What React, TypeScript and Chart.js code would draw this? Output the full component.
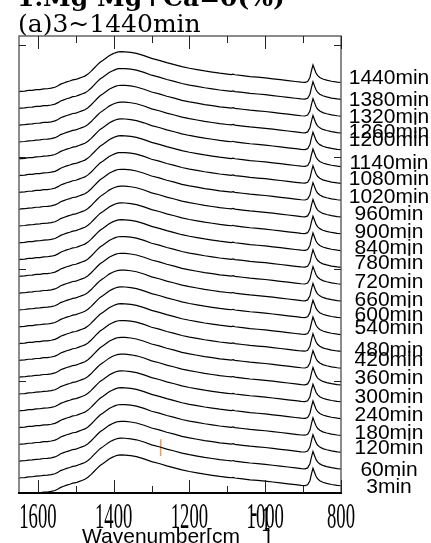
import { useEffect, useRef } from "react";
import { Chart, registerables } from "chart.js";

Chart.register(...registerables);

const TIMES = [
  "3min", "60min", "120min", "180min", "240min", "300min", "360min", "420min",
  "480min", "540min", "600min", "660min", "720min", "780min", "840min", "900min",
  "960min", "1020min", "1080min", "1140min", "1200min", "1260min", "1320min",
  "1380min", "1440min",
];

const WAVENUMBERS = [
  1655, 1645, 1635, 1625, 1615, 1605, 1595, 1585, 1575, 1565, 1555, 1547, 1540,
  1532, 1524, 1516, 1508, 1500, 1492, 1484, 1476, 1468, 1460, 1452, 1444, 1436,
  1428, 1420, 1412, 1404, 1396, 1388, 1380, 1370, 1355, 1340, 1320, 1300, 1280,
  1260, 1240, 1220, 1200, 1180, 1160, 1140, 1120, 1100, 1090, 1085, 1080, 1060,
  1040, 1020, 1000, 980, 960, 940, 920, 905, 895, 888, 882, 878, 874, 870, 866,
  862, 856, 848, 838, 825, 810, 798,
];

const BASE_SPECTRUM = [
  0.0, 0.006, 0.008, 0.014, 0.015, 0.021, 0.022, 0.028, 0.029, 0.034, 0.042,
  0.055, 0.07, 0.08, 0.09, 0.098, 0.108, 0.112, 0.122, 0.132, 0.142, 0.16,
  0.184, 0.212, 0.24, 0.266, 0.284, 0.304, 0.324, 0.338, 0.35, 0.358, 0.36,
  0.359, 0.354, 0.345, 0.325, 0.3, 0.283, 0.262, 0.245, 0.226, 0.212, 0.2,
  0.188, 0.178, 0.168, 0.16, 0.156, 0.16, 0.154, 0.146, 0.138, 0.132, 0.126,
  0.118, 0.11, 0.102, 0.094, 0.088, 0.086, 0.094, 0.13, 0.19, 0.241, 0.205,
  0.17, 0.148, 0.13, 0.116, 0.106, 0.096, 0.088, 0.084,
];

const STACK_OFFSETS = [
  -0.02, 0.13, 0.28, 0.43, 0.58, 0.73, 0.88, 1.03, 1.18, 1.33, 1.48, 1.63, 1.78,
  1.93, 2.08, 2.23, 2.38, 2.53, 2.68, 2.83, 2.98, 3.13, 3.28, 3.43, 3.58,
];

const LABEL_Y = [
  0.054, 0.205, 0.402, 0.536, 0.696, 0.857, 1.027, 1.188, 1.277, 1.473, 1.589,
  1.723, 1.884, 2.054, 2.188, 2.33, 2.491, 2.643, 2.804, 2.946, 3.152, 3.223,
  3.357, 3.509, 3.705,
];

const X_MAJOR_TICKS = [1600, 1400, 1200, 1000, 800];
const X_MINOR_TICKS = [1500, 1300, 1100, 900];
const Y_TICKS = [1, 2, 3, 4];
const MARKER_X = [1276, 1276];
const MARKER_Y = [0.33, 0.48];

const overlay = {
  id: "overlay",
  afterDraw(chart: any) {
    const { ctx, chartArea } = chart;
    const xs = chart.scales.x;
    const ys = chart.scales.y;
    const { left, right, top, bottom } = chartArea;
    ctx.save();

    // frame
    ctx.lineWidth = 1.5;
    ctx.strokeStyle = "#666";
    ctx.beginPath();
    ctx.moveTo(left, bottom);
    ctx.lineTo(left, top);
    ctx.lineTo(right, top);
    ctx.lineTo(right, bottom);
    ctx.stroke();
    ctx.strokeStyle = "#000";
    ctx.lineWidth = 2;
    ctx.beginPath();
    ctx.moveTo(left - 1, bottom);
    ctx.lineTo(right + 1, bottom);
    ctx.stroke();

    // x ticks (inward, top and bottom)
    ctx.lineWidth = 1;
    ctx.strokeStyle = "#222";
    const tick = (v: number, len: number) => {
      const px = Math.round(xs.getPixelForValue(v)) + 0.5;
      ctx.beginPath();
      ctx.moveTo(px, top);
      ctx.lineTo(px, top + len);
      ctx.moveTo(px, bottom);
      ctx.lineTo(px, bottom - len);
      ctx.stroke();
    };
    X_MAJOR_TICKS.forEach((v) => tick(v, 13));
    X_MINOR_TICKS.forEach((v) => tick(v, 7));

    // y ticks (inward, left and right)
    Y_TICKS.forEach((v) => {
      const py = Math.round(ys.getPixelForValue(v)) + 0.5;
      ctx.beginPath();
      ctx.moveTo(left, py);
      ctx.lineTo(left + 7, py);
      ctx.moveTo(right, py);
      ctx.lineTo(right - 7, py);
      ctx.stroke();
    });

    // x tick labels: condensed serif
    ctx.fillStyle = "#000";
    ctx.textAlign = "center";
    ctx.textBaseline = "alphabetic";
    ctx.font = '36px "Liberation Serif"';
    const sx = 0.52;
    X_MAJOR_TICKS.forEach((v) => {
      const px = xs.getPixelForValue(v);
      ctx.save();
      ctx.scale(sx, 1);
      ctx.fillText(String(v), px / sx, 528);
      ctx.restore();
    });

    // curve labels
    ctx.font = '21px "Liberation Sans"';
    ctx.textBaseline = "middle";
    TIMES.forEach((t, i) => {
      ctx.fillText(t, 389, ys.getPixelForValue(LABEL_Y[i]));
    });

    // axis title
    ctx.textAlign = "left";
    ctx.textBaseline = "alphabetic";
    ctx.font = '21px "Liberation Sans"';
    ctx.fillText("Wavenumber[cm", 82, 543);
    ctx.fillText("]", 265, 543);
    ctx.save();
    ctx.scale(sx, 1);
    ctx.textAlign = "center";
    ctx.font = '36px "Liberation Serif"';
    ctx.fillText("-", 254 / sx, 523);
    ctx.fillText("1", 266 / sx, 531);
    ctx.restore();

    // headings
    ctx.textAlign = "left";
    ctx.font = 'bold 25px "DejaVu Serif"';
    ctx.fillText("1.Mg Mg+Ca=0(%)", 17, 6);
    ctx.font = '25px "DejaVu Serif"';
    ctx.fillText("(a)3~1440min", 18, 32);

    ctx.restore();
  },
};

export default function App() {
  const ref = useRef<HTMLCanvasElement | null>(null);
  useEffect(() => {
    if (!ref.current) return;
    const datasets: any[] = TIMES.map((t, i) => ({
      label: t,
      data: WAVENUMBERS.map((w, j) => ({ x: w, y: BASE_SPECTRUM[j] + STACK_OFFSETS[i] })),
      borderColor: "#000",
      borderWidth: 1.2,
      pointRadius: 0,
      tension: 0,
      clip: 0,
    }));
    datasets.push({
      label: "marker",
      data: MARKER_X.map((x, k) => ({ x, y: MARKER_Y[k] })),
      borderColor: "#eea060",
      borderWidth: 1.6,
      pointRadius: 0,
      clip: 0,
    });
    const chart = new Chart(ref.current, {
      type: "line",
      data: { datasets },
      options: {
        responsive: false,
        animation: false,
        events: [],
        layout: { padding: { left: 19, right: 90, top: 36, bottom: 50 } },
        plugins: { legend: { display: false }, tooltip: { enabled: false } },
        scales: {
          x: { type: "linear", min: 800, max: 1650, reverse: true, display: false },
          y: { type: "linear", min: 0, max: 4.08, display: false },
        },
      },
      plugins: [overlay],
    });
    return () => chart.destroy();
  }, []);
  return (
    <div style={{ position: "absolute", left: 0, top: 0, width: 431, height: 543, background: "#fff" }}>
      <canvas ref={ref} width={431} height={543} />
    </div>
  );
}
